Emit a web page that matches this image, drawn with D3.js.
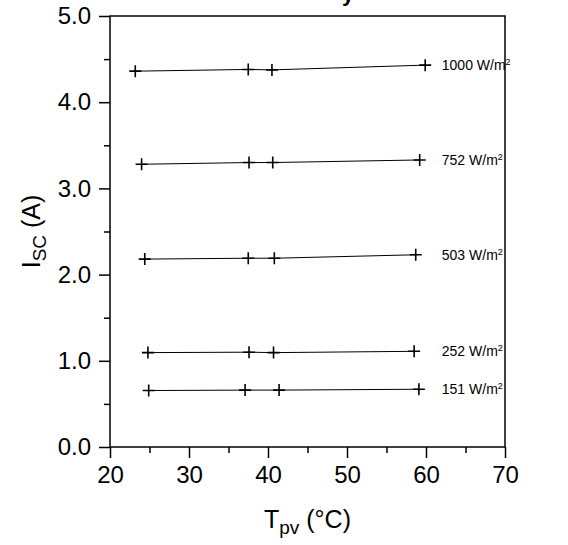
<!DOCTYPE html>
<html>
<head>
<meta charset="utf-8">
<script src="https://cdn.jsdelivr.net/npm/d3@7"></script>
<style>
  html, body { margin: 0; padding: 0; background: #fff; }
  svg { display: block; font-family: "Liberation Sans", Arial, Helvetica, sans-serif; }
</style>
</head>
<body>
<div id="chart"></div>
<script>
// irradiance levels (W/m2) and their measured points
const irradiance = [1000, 752, 503, 252, 151]
const tempValues = [
  [23.2, 37.5, 40.5, 59.9],
  [24.0, 37.6, 40.6, 59.2],
  [24.4, 37.5, 40.8, 58.7],
  [24.8, 37.6, 40.7, 58.5],
  [24.9, 37.1, 41.4, 59.1]
]
const iscValues = [
  [4.36, 4.38, 4.375, 4.43],
  [3.28, 3.30, 3.30, 3.33],
  [2.18, 2.19, 2.19, 2.23],
  [1.095, 1.10, 1.095, 1.11],
  [0.655, 0.66, 0.66, 0.67]
]
const xTicks = [20, 30, 40, 50, 60, 70]
const yTicks = [0, 1, 2, 3, 4, 5]

const width = 568, height = 545
const margin = { top: 16, right: 63, bottom: 98, left: 110 }
const innerW = width - margin.left - margin.right
const innerH = height - margin.top - margin.bottom

const x = d3.scaleLinear().domain([20, 70]).range([0, innerW])
const y = d3.scaleLinear().domain([0, 5]).range([innerH, 0])

const svg = d3.select("#chart").append("svg")
  .attr("width", width).attr("height", height)

// title sits above the page edge, only its descender shows
svg.append("text")
  .attr("x", 348).attr("y", 1)
  .attr("font-size", 22).attr("font-weight", "bold")
  .attr("text-anchor", "middle")
  .text("y")

const g = svg.append("g").attr("transform", `translate(${margin.left},${margin.top})`)

const minorX = d3.range(25, 70, 10)
const minorY = d3.range(0.5, 5, 1)

const styleTicks = a => {
  a.select(".domain").remove()
  a.selectAll(".tick line").attr("stroke", "#000").attr("stroke-width", 1.5)
  a.selectAll(".tick text").attr("font-size", 24).attr("font-family", "Liberation Sans, Arial").attr("fill", "#000")
}

// x axis
g.append("g")
  .attr("transform", `translate(0,${innerH})`)
  .call(d3.axisBottom(x).tickValues(xTicks).tickSize(11).tickPadding(8).tickFormat(d3.format("d")))
  .call(styleTicks)
g.append("g")
  .attr("transform", `translate(0,${innerH})`)
  .call(d3.axisBottom(x).tickValues(minorX).tickSize(6).tickFormat(""))
  .call(styleTicks)

// y axis
g.append("g")
  .call(d3.axisLeft(y).tickValues(yTicks).tickSize(11).tickPadding(8).tickFormat(d3.format(".1f")))
  .call(styleTicks)
g.append("g")
  .call(d3.axisLeft(y).tickValues(minorY).tickSize(6).tickFormat(""))
  .call(styleTicks)

// frame
g.append("rect")
  .attr("width", innerW).attr("height", innerH)
  .attr("fill", "none").attr("stroke", "#000").attr("stroke-width", 1.5)

// series
const line = d3.line().x(d => x(d[0])).y(d => y(d[1]))
irradiance.forEach((irr, i) => {
  const pts = tempValues[i].map((t, j) => [t, iscValues[i][j]])
  g.append("path")
    .attr("d", line(pts))
    .attr("fill", "none").attr("stroke", "#000").attr("stroke-width", 1)
  pts.forEach(p => {
    const px = x(p[0]), py = y(p[1])
    g.append("path")
      .attr("d", `M${px - 6},${py}H${px + 6}M${px},${py - 6}V${py + 6}`)
      .attr("stroke", "#000").attr("stroke-width", 1.6)
  })
  const last = pts[pts.length - 1]
  const lbl = g.append("text")
    .attr("x", x(62))
    .attr("y", y(last[1]) + 5)
    .attr("font-size", 14)
    .text(`${irr} W/m`)
  lbl.append("tspan").attr("font-size", 9).attr("dy", -5).text("2")
})

// axis titles
const xt = svg.append("text")
  .attr("x", margin.left + innerW / 2).attr("y", 528)
  .attr("text-anchor", "middle").attr("font-size", 25)
  .text("T")
xt.append("tspan").attr("font-size", 19).attr("dy", 6).text("pv")
xt.append("tspan").attr("dy", -6).text(" (°C)")

const yt = svg.append("text")
  .attr("transform", `translate(40,${margin.top + innerH / 2}) rotate(-90)`)
  .attr("text-anchor", "middle").attr("font-size", 25)
  .text("I")
yt.append("tspan").attr("font-size", 19).attr("dy", 6).text("SC")
yt.append("tspan").attr("dy", -6).text(" (A)")
</script>
</body>
</html>
